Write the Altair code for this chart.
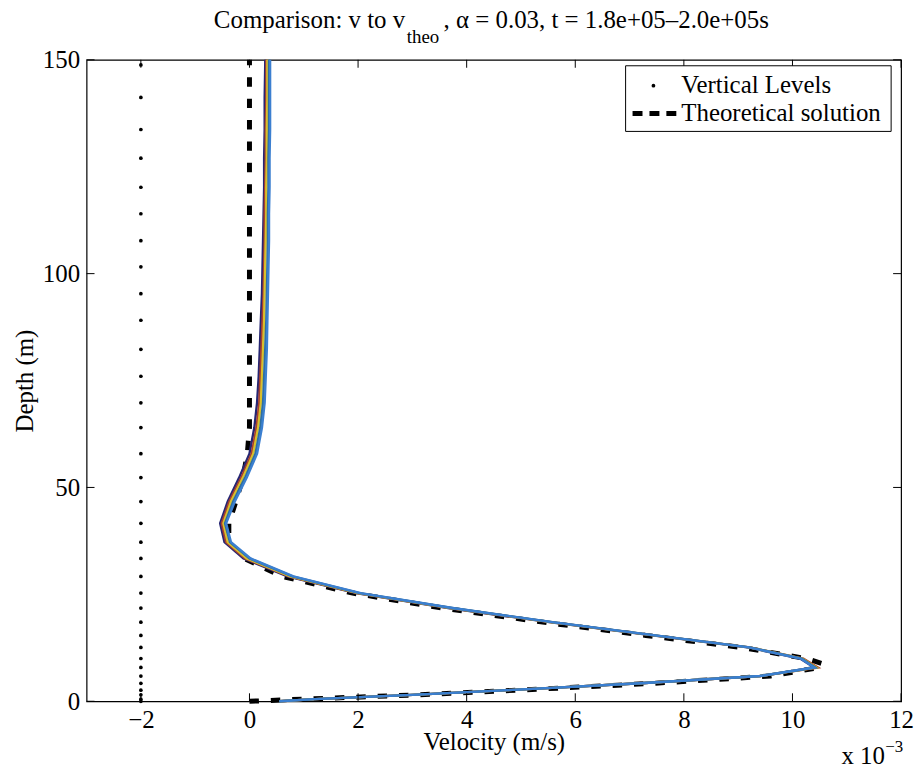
import altair as alt
import pandas as pd

# ---------------- data (velocity in 1e-3 m/s) -------------
levels = [0, 0.5, 1.5, 2.6, 4.2, 5.9, 7.9, 10.0, 12.6, 15.4, 18.5, 21.8, 25.3, 29.2,
          33.4, 37.2, 41.6, 46.7, 52.3, 57.9, 64.0, 69.8, 76.0, 82.3, 89.1, 95.3,
          101.6, 107.7, 114.0, 120.2, 127.0, 133.7, 141.2, 148.8]
levels_x = -2

curve_depth = [0, 0.5, 1.5, 2.6, 4.2, 5.9, 7.9, 10.0, 12.6, 15.4, 18.5, 21.8, 25.3, 29.2,
               33.4, 37.2, 41.6, 46.7, 52.3, 57.9, 64.0, 69.8, 76.0, 82.3, 89.1, 95.3,
               101.6, 107.7, 114.0, 120.2, 127.0, 133.7, 141.2, 148.8, 150.0]

v_navy = [0.55, 1.2, 3.0, 4.75, 7.2, 9.4, 10.40, 10.14, 9.17, 7.42, 5.52, 3.66, 1.96, 0.70,
          -0.11, -0.46, -0.54, -0.40, -0.19, 0.0, 0.09, 0.14, 0.17, 0.19, 0.21, 0.23,
          0.24, 0.25, 0.26, 0.27, 0.27, 0.28, 0.28, 0.29, 0.29]
v_red = [0.56, 1.21, 3.01, 4.76, 7.21, 9.42, 10.47, 10.20, 9.21, 7.45, 5.55, 3.69, 1.99, 0.73,
         -0.08, -0.43, -0.51, -0.37, -0.15, 0.04, 0.13, 0.18, 0.20, 0.22, 0.24, 0.26,
         0.27, 0.28, 0.28, 0.29, 0.30, 0.30, 0.31, 0.31, 0.31]
v_yellow = [0.55, 1.2, 3.0, 4.75, 7.2, 9.4, 10.44, 10.18, 9.2, 7.45, 5.55, 3.7, 2.0, 0.75,
            -0.05, -0.40, -0.48, -0.34, -0.12, 0.07, 0.16, 0.21, 0.23, 0.25, 0.27, 0.28,
            0.29, 0.30, 0.31, 0.31, 0.32, 0.32, 0.33, 0.33, 0.33]
v_teal = [0.55, 1.2, 3.0, 4.75, 7.2, 9.4, 10.42, 10.17, 9.21, 7.47, 5.58, 3.73, 2.03, 0.79,
          0.0, -0.36, -0.45, -0.30, -0.08, 0.11, 0.20, 0.25, 0.27, 0.29, 0.31, 0.32,
          0.33, 0.34, 0.34, 0.35, 0.35, 0.36, 0.36, 0.36, 0.36]
v_blue = [0.55, 1.2, 3.0, 4.75, 7.2, 9.4, 10.40, 10.15, 9.2, 7.47, 5.58, 3.74, 2.05, 0.81,
          0.02, -0.34, -0.43, -0.27, -0.05, 0.14, 0.23, 0.28, 0.30, 0.32, 0.33, 0.34,
          0.35, 0.36, 0.36, 0.37, 0.37, 0.38, 0.38, 0.38, 0.38]

theo_depth = [0, 0.5, 1.5, 2.6, 4.2, 5.9, 7.9, 8.8, 10.0, 12.6, 15.4, 18.5, 21.8, 25.3,
              29.2, 33.4, 37.2, 41.6, 46.7, 52.3, 57.9, 64.0, 69.8, 76.0, 90.0, 110.0,
              130.0, 150.0]
theo_v = [0, 1.0, 3.1, 4.95, 7.45, 9.6, 10.5, 10.55, 10.25, 9.05, 7.3, 5.4, 3.55, 1.9,
          0.6, -0.1, -0.38, -0.38, -0.25, -0.12, -0.04, 0.0, 0.0, 0.0, 0.0, 0.0, 0.0, 0.0]

xticks = [-2, 0, 2, 4, 6, 8, 10, 12]
yticks = [0, 50, 100, 150]
legend_labels = ["Vertical Levels", "Theoretical solution"]
title_parts = ["Comparison: v to v", "theo", ", α = 0.03, t = 1.8e+05–2.0e+05s"]
x_title = "Velocity (m/s)"
y_title = "Depth (m)"
exp_parts = ["x 10", "−3"]

series_names = ["navy", "red", "yellow", "teal", "blue"]
series_vals = [v_navy, v_red, v_yellow, v_teal, v_blue]
series_colors = ["#262673", "#a8402e", "#d8c02c", "#2e6f9e", "#3b7fd0"]

# ---------------- chart ----------------
W, H = 819, 645
FONT = "Liberation Serif, Times New Roman, Times, serif"
FS = 25

xs = alt.Scale(domain=[-3, 12], nice=False, zero=False)
ys = alt.Scale(domain=[0, 150], nice=False, zero=False)

x_axis = alt.Axis(values=xticks, format="d", ticks=False, tickSize=0, domain=False,
                  grid=False, labelFont=FONT, labelFontSize=FS, labelColor="black",
                  labelPadding=6, labelFlush=False, labelOverlap=False,
                  title=x_title, titleFont=FONT, titleFontSize=FS, titleFontWeight="normal",
                  titleColor="black", titleX=409.5, titleY=49, titleAlign="center",
                  titleBaseline="alphabetic")
y_axis = alt.Axis(values=yticks, format="d", ticks=False, tickSize=0, domain=False,
                  grid=False, labelFont=FONT, labelFontSize=FS, labelColor="black",
                  labelPadding=7, labelFlush=False, labelOverlap=False,
                  title=y_title, titleFont=FONT, titleFontSize=FS, titleFontWeight="normal",
                  titleColor="black", titleX=-62, titleY=322.5, titleAngle=270,
                  titleAlign="center", titleBaseline="middle")

X = lambda f: alt.X(f, type="quantitative", scale=xs, axis=x_axis)
Y = lambda f: alt.Y(f, type="quantitative", scale=ys, axis=y_axis)

layers = []

# vertical levels dots
df_lv = pd.DataFrame({"v": [levels_x] * len(levels), "depth": levels})
layers.append(alt.Chart(df_lv).mark_point(filled=True, size=14, color="black", opacity=1)
              .encode(x=X("v"), y=Y("depth")))

# theoretical solution
df_th = pd.DataFrame({"v": theo_v, "depth": theo_depth})
layers.append(alt.Chart(df_th).mark_line(color="black", strokeWidth=5, strokeDash=[9.5, 12],
                                         strokeCap="butt")
              .encode(x=X("v"), y=Y("depth"), order=alt.Order("depth:Q")))

# model curves
for name, vals, col in zip(series_names, series_vals, series_colors):
    d = pd.DataFrame({"v": vals, "depth": curve_depth})
    layers.append(alt.Chart(d).mark_line(color=col, strokeWidth=2.4)
                  .encode(x=X("v"), y=Y("depth"), order=alt.Order("depth:Q")))

# inward ticks (box axes)
df_xt = pd.DataFrame({"t": xticks})
df_yt = pd.DataFrame({"t": yticks})
for y0, y1 in [(H, H - 8), (0, 8)]:
    layers.append(alt.Chart(df_xt).mark_rule(color="black", strokeWidth=1)
                  .encode(x=X("t"), y=alt.value(y0), y2=alt.value(y1)))
for x0, x1 in [(0, 8), (W, W - 8)]:
    layers.append(alt.Chart(df_yt).mark_rule(color="black", strokeWidth=1)
                  .encode(y=Y("t"), x=alt.value(x0), x2=alt.value(x1)))

one = pd.DataFrame({"k": [0]})


def txt(s, x, y, size=FS, align="left", baseline="alphabetic"):
    return (alt.Chart(one).mark_text(font=FONT, fontSize=size, color="black", align=align,
                                     baseline=baseline)
            .encode(x=alt.value(x), y=alt.value(y), text=alt.value(s)))


# title with subscript
layers.append(txt(title_parts[0], 128, -32))
layers.append(txt(title_parts[1], 322, -17, size=19))
layers.append(txt(title_parts[2], 359, -32))

# x 10^-3
layers.append(txt(exp_parts[0], 759, 708))
layers.append(txt(exp_parts[1], 803, 696, size=17))

# legend
layers.append(alt.Chart(one).mark_rect(fill="white", stroke="black", strokeWidth=1)
              .encode(x=alt.value(542), x2=alt.value(809), y=alt.value(6), y2=alt.value(72)))
layers.append(alt.Chart(one).mark_point(filled=True, size=14, color="black", opacity=1)
              .encode(x=alt.value(570), y=alt.value(26)))
layers.append(alt.Chart(one).mark_rule(color="black", strokeWidth=5, strokeDash=[10, 7],
                                       strokeCap="butt")
              .encode(x=alt.value(549), x2=alt.value(593), y=alt.value(54)))
layers.append(txt(legend_labels[0], 598, 33))
layers.append(txt(legend_labels[1], 598, 62))

chart = (alt.layer(*layers)
         .properties(width=W, height=H,
                     autosize=alt.AutoSizeParams(type="none"),
                     padding={"left": 79, "top": 50, "right": 14, "bottom": 63},
                     background="white")
         .configure_view(stroke="black", strokeWidth=1.2))

chart.save("out.html", embed_options={"renderer": "svg", "actions": False})
